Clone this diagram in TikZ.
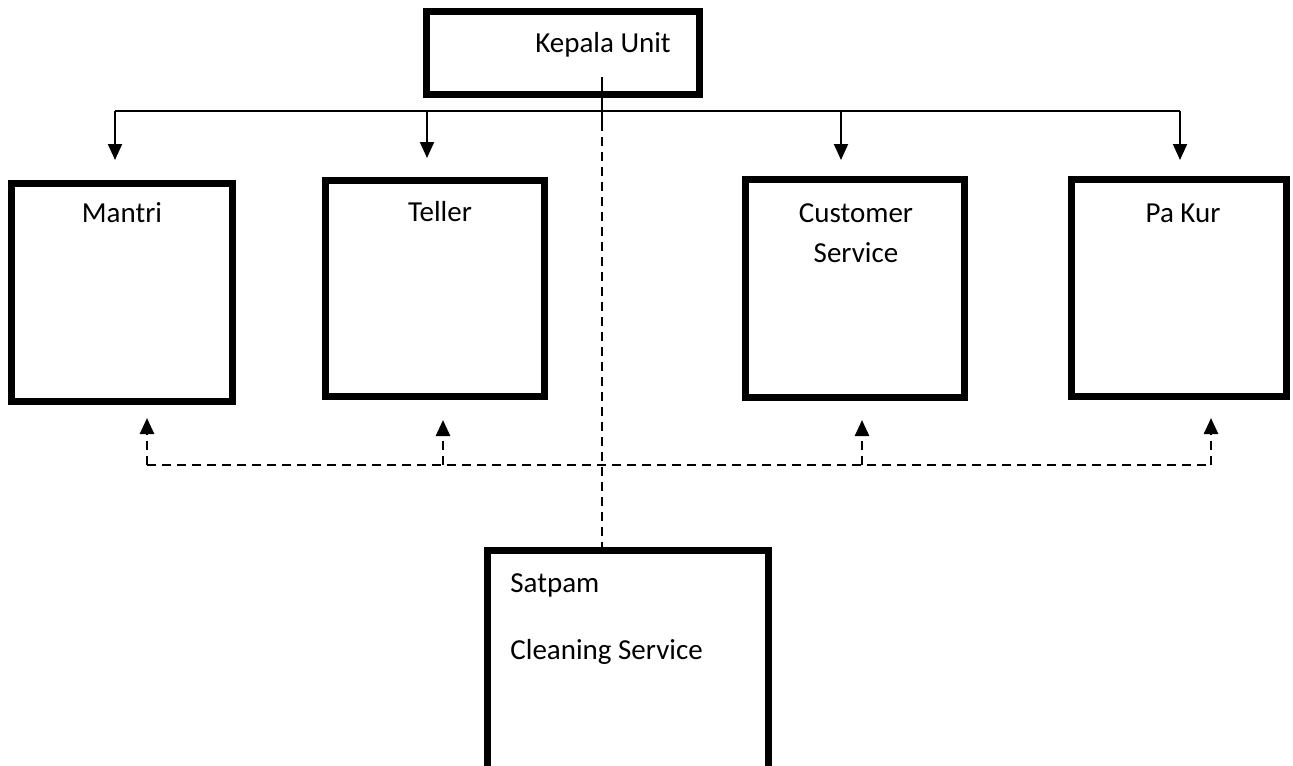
\documentclass[tikz,border=0pt]{standalone}
\usepackage{fontspec}
\setmainfont{Carlito}
\usetikzlibrary{arrows.meta,fit}
\begin{document}
\begin{tikzpicture}[x=0.5pt,y=-0.5pt,
  box/.style={draw,line width=3.5pt,rectangle,inner sep=0pt},
  lbl/.style={font=\fontsize{14.5}{17.4}\selectfont,inner sep=0pt,anchor=base},
  lblw/.style={font=\fontsize{14.5}{17.4}\selectfont,inner sep=0pt,anchor=base west},
  conn/.style={line width=1pt},
  dconn/.style={line width=1.3pt,dash pattern=on 4.5pt off 3pt},
  tip/.style={-{Triangle[width=7pt,length=8pt]}}]
\clip (0,0) rectangle (1293,765);
\fill[white] (0,0) rectangle (1293,765);
% boxes
\node[box,fit={(426.5,11.5)(699.5,94.5)}] (kepala) {};
\node[box,fit={(11.5,183.5)(232.5,401.5)}] (mantri) {};
\node[box,fit={(325.5,180.5)(544.5,396.5)}] (teller) {};
\node[box,fit={(745.5,179.5)(964.5,397.5)}] (cs) {};
\node[box,fit={(1071.5,179.5)(1286.5,396.5)}] (pakur) {};
\node[box,fit={(487.5,550.5)(768.5,900)}] (satpam) {};
% texts
\node[lbl] (tkepala) at (603,53) {Kepala Unit};
\node[lbl] (tmantri) at (122,222) {Mantri};
\node[lbl] (tteller) at (440,221) {Teller};
\node[lbl] (tcs1) at (856,222) {Customer};
\node[lbl] (tcs2) at (856,262) {Service};
\node[lbl] (tpakur) at (1183,222) {Pa Kur};
\node[lblw] (tsatpam) at (510,592) {Satpam};
\node[lblw] (tclean) at (510,659) {Cleaning Service};
% solid bus
\coordinate (b1) at (115,111);
\coordinate (b2) at (427,111);
\coordinate (b3) at (841,111);
\coordinate (b4) at (1180,111);
\coordinate (a1) at (115,160);
\coordinate (a2) at (427,158);
\coordinate (a3) at (841,160);
\coordinate (a4) at (1180,160);
\draw[conn] (b1) -- (b4);
\draw[conn,tip] (b1) -- (a1);
\draw[conn,tip] (b2) -- (a2);
\draw[conn,tip] (b3) -- (a3);
\draw[conn,tip] (b4) -- (a4);
% vertical from Kepala Unit
\coordinate (k1) at (602,77);
\coordinate (k2) at (602,122);
\draw[conn] (k1) -- (k2);
\draw[dconn] (k2) -- (k2 |- satpam.north);
% dashed bus
\coordinate (d1) at (147,465);
\coordinate (d2) at (443,465);
\coordinate (d3) at (862,465);
\coordinate (d4) at (1211,465);
\coordinate (u1) at (147,418);
\coordinate (u2) at (443,420);
\coordinate (u3) at (862,420);
\coordinate (u4) at (1211,418);
\draw[dconn] (d1) -- (d4);
\draw[dconn,tip] (d1) -- (u1);
\draw[dconn,tip] (d2) -- (u2);
\draw[dconn,tip] (d3) -- (u3);
\draw[dconn,tip] (d4) -- (u4);
\end{tikzpicture}
\end{document}
